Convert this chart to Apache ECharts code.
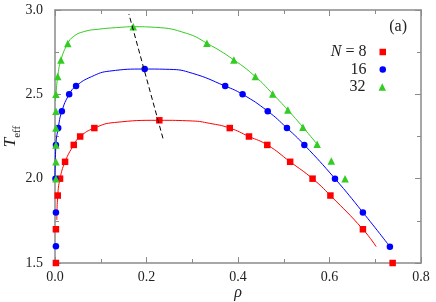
<!DOCTYPE html>
<html>
<head>
<meta charset="utf-8">
<script src="https://cdn.jsdelivr.net/npm/echarts@6/dist/echarts.min.js"></script>
<style>html,body{margin:0;padding:0;background:#fff}#c{width:436px;height:302px}</style>
</head>
<body>
<div id="c"></div>
<script>
// ---- data ----
const xTickLabels = ['0.0', '0.2', '0.4', '0.6', '0.8'];
const yTickLabels = ['1.5', '2.0', '2.5', '3.0'];
const seriesNames = ['N = 8', '16', '32'];

const pointsN8 = [[0.002,1.50],[0.002,1.70],[0.006,1.90],[0.011,2.00],[0.022,2.10],[0.041,2.20],[0.055,2.25],[0.086,2.30],[0.228,2.346],[0.382,2.30],[0.424,2.25],[0.464,2.20],[0.514,2.10],[0.563,2.00],[0.602,1.90],[0.673,1.70],[0.738,1.50]];
const pointsN16 = [[0.002,1.60],[0.002,1.80],[0.001,2.00],[0.002,2.20],[0.007,2.30],[0.015,2.40],[0.031,2.50],[0.046,2.549],[0.196,2.650],[0.372,2.549],[0.410,2.50],[0.465,2.40],[0.507,2.30],[0.545,2.20],[0.612,2.00],[0.673,1.80],[0.732,1.597]];
const pointsN32 = [[0.002,2.00],[0.002,2.10],[0.002,2.20],[0.002,2.30],[0.002,2.40],[0.002,2.50],[0.006,2.605],[0.013,2.704],[0.028,2.802],[0.171,2.901],[0.332,2.803],[0.391,2.704],[0.438,2.605],[0.476,2.502],[0.509,2.407],[0.542,2.305],[0.573,2.204],[0.604,2.105],[0.634,2.00]];

const fitN8 = [[0.004,1.755],[0.006,1.90],[0.011,2.00],[0.022,2.10],[0.041,2.20],[0.055,2.25],[0.086,2.30],[0.13,2.333],[0.228,2.346],[0.30,2.342],[0.338,2.328],[0.382,2.30],[0.424,2.25],[0.464,2.20],[0.514,2.10],[0.563,2.00],[0.602,1.90],[0.673,1.70],[0.702,1.597]];
const fitN16 = [[0.0,2.00],[0.002,2.20],[0.007,2.30],[0.015,2.40],[0.031,2.50],[0.046,2.549],[0.08,2.605],[0.12,2.638],[0.196,2.650],[0.25,2.648],[0.30,2.625],[0.372,2.549],[0.410,2.50],[0.465,2.40],[0.507,2.30],[0.545,2.20],[0.612,2.00],[0.673,1.80],[0.732,1.597]];
const fitN32 = [[0.001,2.46],[0.002,2.50],[0.006,2.605],[0.013,2.704],[0.028,2.802],[0.04,2.842],[0.062,2.871],[0.098,2.887],[0.142,2.897],[0.171,2.901],[0.22,2.897],[0.287,2.862],[0.332,2.803],[0.391,2.704],[0.438,2.605],[0.476,2.502],[0.509,2.407],[0.542,2.305],[0.573,2.204]];

const arrowFrom = [0.236, 2.239];
const arrowTo = [0.1615, 2.976];

// ---- styling ----
const colors = ['#ff0000', '#0000ff', '#33cc22'];
const symbols = ['rect', 'circle', 'triangle'];
const symSizes = [6.5, 6.5, 7.5];
const serif = 'Liberation Serif';
const axisGrey = '#8a8a8a';

function mkX(pos, showLabel) {
  return {
    type: 'value', position: pos, min: 0, max: 0.8, interval: 0.2,
    axisLine: { show: true, onZero: false, lineStyle: { color: axisGrey, width: 1.5 } },
    axisTick: { show: true, inside: true, length: 6, lineStyle: { color: axisGrey } },
    minorTick: { show: true, splitNumber: 2, length: 4, lineStyle: { color: axisGrey } },
    splitLine: { show: false },
    axisLabel: {
      show: showLabel, margin: 7, fontFamily: serif, fontSize: 14, color: '#222',
      formatter: v => xTickLabels[Math.round(v / 0.2)]
    },
    name: showLabel ? '{i|ρ}' : '',
    nameLocation: 'middle', nameGap: 22, nameMoveOverlap: false,
    nameTextStyle: { rich: { i: { fontFamily: serif, fontStyle: 'italic', fontSize: 16, color: '#222' } } }
  };
}
function mkY(pos, showLabel) {
  return {
    type: 'value', position: pos, min: 1.5, max: 3.0, interval: 0.5,
    axisLine: { show: true, onZero: false, lineStyle: { color: axisGrey, width: 1.5 } },
    axisTick: { show: true, inside: true, length: 6, lineStyle: { color: axisGrey } },
    minorTick: { show: true, splitNumber: 2, length: 4, lineStyle: { color: axisGrey } },
    splitLine: { show: false },
    axisLabel: {
      show: showLabel, margin: 12, fontFamily: serif, fontSize: 14, color: '#222',
      formatter: v => yTickLabels[Math.round((v - 1.5) / 0.5)]
    },
    name: showLabel ? '{i|T}{s|eff}' : '',
    nameLocation: 'middle', nameGap: 32, nameRotate: 90, nameMoveOverlap: false,
    nameTextStyle: {
      rich: {
        i: { fontFamily: serif, fontStyle: 'italic', fontSize: 17, color: '#222', lineHeight: 24, verticalAlign: 'middle' },
        s: { fontFamily: serif, fontSize: 11, color: '#222', lineHeight: 11, verticalAlign: 'bottom' }
      }
    }
  };
}

const pointSets = [pointsN8, pointsN16, pointsN32];
const fitSets = [fitN8, fitN16, fitN32];
const series = [];
fitSets.forEach((d, i) => {
  series.push({
    name: 'fit' + i, type: 'line', data: d, xAxisIndex: 0, yAxisIndex: 0,
    showSymbol: false, smooth: 0.5, clip: true,
    lineStyle: { color: colors[i], width: 1 }, z: 2, silent: true
  });
});
pointSets.forEach((d, i) => {
  series.push({
    name: seriesNames[i], type: 'scatter', data: d, xAxisIndex: 0, yAxisIndex: 0,
    symbol: symbols[i], symbolSize: symSizes[i], clip: false,
    itemStyle: { color: colors[i], opacity: 1 }, z: 3
  });
});
series.push({
  name: 'arrow', type: 'line', data: [], xAxisIndex: 0, yAxisIndex: 0,
  markLine: {
    silent: true, symbol: ['none', 'arrow'], symbolSize: [0, 8],
    label: { show: false },
    lineStyle: { color: '#000', width: 1, type: [5, 3] },
    data: [[{ coord: arrowFrom }, { coord: arrowTo }]]
  }
});

const legendTops = [44, 61.5, 79];
const legendH = [6.5, 6.5, 7.5];
const legends = seriesNames.map((n, i) => ({
  data: [{ name: n, icon: symbols[i] }],
  orient: 'vertical', right: 50, top: legendTops[i], padding: 0,
  align: 'right', itemWidth: legendH[i], itemHeight: legendH[i], selectedMode: false,
  formatter: name => name === 'N = 8' ? '{i|N} = 8' : name,
  textStyle: {
    fontFamily: serif, fontSize: 16, color: '#222', lineHeight: 16, padding: [0, 8, 0, 0],
    rich: { i: { fontFamily: serif, fontStyle: 'italic', fontSize: 16, color: '#222', lineHeight: 16 } }
  }
}));

const chart = echarts.init(document.getElementById('c'), null, { renderer: 'canvas' });
chart.setOption({
  animation: false,
  backgroundColor: '#fff',
  title: { text: '(a)', right: 29, top: 19, padding: 0, textStyle: { fontFamily: serif, fontSize: 16, fontWeight: 'normal', color: '#222' } },
  grid: { left: 55, right: 15, top: 10, bottom: 39, containLabel: false, outerBoundsMode: 'none' },
  xAxis: [mkX('bottom', true), mkX('top', false)],
  yAxis: [mkY('left', true), mkY('right', false)],
  legend: legends,
  series: series
});
</script>
</body>
</html>
